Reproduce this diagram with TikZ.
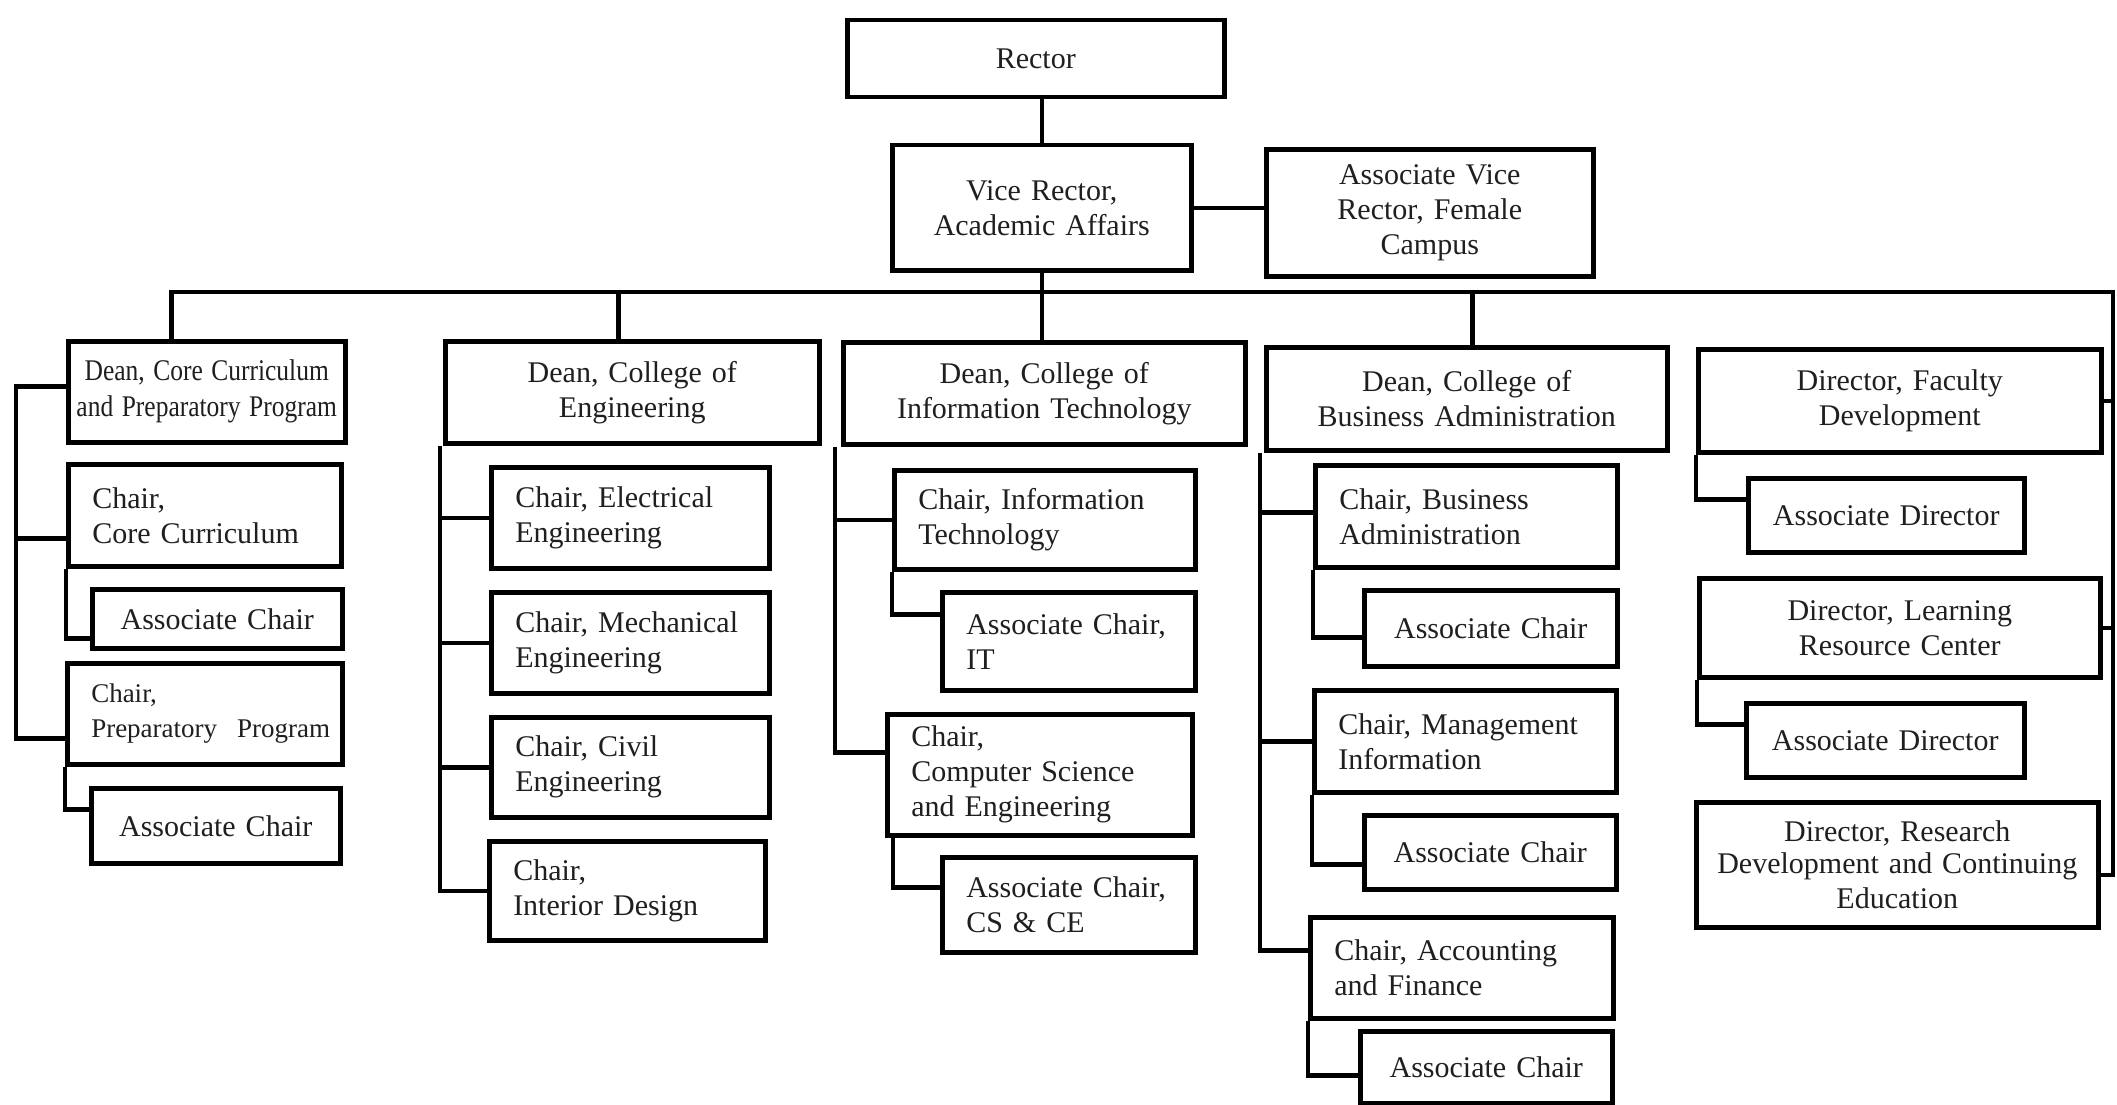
\documentclass[tikz,border=0pt]{standalone}
\usepackage{fontspec}
\setmainfont{Liberation Serif}
\usepackage{graphicx}
\usetikzlibrary{calc}
\tikzset{
  box/.style={draw=black, line width=4.5pt, fill=white, inner sep=0pt,
    font=\fontsize{30}{35}\selectfont, text=black!88},
  conn/.style={draw=black, line width=4.5pt, line join=miter}
}
% name, x1, y1, x2, y2, text  (left aligned)
\newcommand\lbox[6]{%
  \pgfmathsetmacro\bw{#4-#2}\pgfmathsetmacro\bh{#5-#3}\pgfmathsetmacro\tw{#4-#2-48}%
  \node[box, align=left, text width=\tw pt, minimum width=\bw pt, minimum height=\bh pt,
    anchor=north west] (#1) at (#2,#3) {#6};}
% centered
\newcommand\cbox[6]{%
  \pgfmathsetmacro\bw{#4-#2}\pgfmathsetmacro\bh{#5-#3}\pgfmathsetmacro\tw{#4-#2-10}%
  \node[box, align=center, text width=\tw pt, minimum width=\bw pt, minimum height=\bh pt,
    anchor=north west] (#1) at (#2,#3) {#6};}
\begin{document}
\begin{tikzpicture}[x=1pt,y=-1pt]
\useasboundingbox[fill=white] (0,0) rectangle (2117,1105);

% top
\cbox{Rector}{845}{18}{1222}{95}{Rector}
\cbox{VR}{890}{143}{1189}{268}{Vice Rector,\\Academic Affairs}
\cbox{AVR}{1264}{147}{1591}{274}{Associate Vice\\Rector, Female\\Campus}

% column 1
\cbox{DCC}{66}{339}{343}{440}{\scalebox{0.85}[1]{\begin{tabular}{@{}c@{}}Dean, Core Curriculum\\[1pt]and Preparatory Program\end{tabular}}}
\lbox{ChairCC}{66}{462}{339}{564}{Chair,\\Core Curriculum}
\cbox{ACC1}{90}{587}{340}{646}{Associate Chair}
\lbox{ChairPrep}{65}{661}{340}{762}{\fontsize{27}{35}\selectfont Chair,\\\mbox{Preparatory\ \ Program}}
\cbox{ACC2}{89}{786}{338}{861}{Associate Chair}

% column 2
\cbox{DEng}{443}{339}{817}{441}{Dean, College of\\Engineering}
\lbox{Elec}{489}{465}{767}{566}{Chair, Electrical\\Engineering}
\lbox{Mech}{489}{590}{767}{691}{Chair, Mechanical\\Engineering}
\lbox{Civil}{489}{715}{767}{815}{Chair, Civil\\Engineering}
\lbox{Interior}{487}{839}{763}{938}{Chair,\\Interior Design}

% column 3
\cbox{DIT}{841}{340}{1243}{442}{Dean, College of\\Information Technology}
\lbox{ChairIT}{892}{468}{1193}{567}{Chair, Information\\Technology}
\lbox{AIT}{940}{590}{1193}{688}{Associate Chair,\\IT}
\lbox{ChairCS}{885}{712}{1190}{833}{Chair,\\Computer Science\\and Engineering}
\lbox{ACS}{940}{855}{1193}{950}{Associate Chair,\\CS \& CE}

% column 4
\cbox{DBA}{1264}{345}{1665}{448}{Dean, College of\\Business Administration}
\lbox{ChairBA}{1313}{463}{1615}{565}{Chair, Business\\Administration}
\cbox{ABA1}{1362}{588}{1615}{664}{Associate Chair}
\lbox{ChairMI}{1312}{688}{1614}{790}{Chair, Management\\Information}
\cbox{ABA2}{1362}{813}{1614}{887}{Associate Chair}
\lbox{ChairAF}{1308}{915}{1611}{1016}{Chair, Accounting\\and Finance}
\cbox{ABA3}{1358}{1029}{1610}{1101}{Associate Chair}

% column 5
\cbox{DFD}{1696}{347}{2099}{450}{Director, Faculty\\Development}
\cbox{AD1}{1746}{476}{2022}{550}{Associate Director}
\cbox{DLRC}{1697}{576}{2098}{675}{Director, Learning\\Resource Center}
\cbox{AD2}{1744}{701}{2022}{775}{Associate Director}
\cbox{DRD}{1694}{800}{2096}{925}{\fontsize{30}{32}\selectfont Director, Research\\Development and Continuing\\Education}

% trunk coordinates
\coordinate (barL) at (169,292);
\coordinate (barR) at (2113,292);
\coordinate (c1) at (16,500);

% top connectors
\draw[conn] (VR.north) -- (VR.north |- Rector.south);
\draw[conn] (VR.east) -- (VR.east -| AVR.west);
\draw[conn] (VR.south) -- (VR.south |- DIT.north);
\draw[conn] ([xshift=-35.5pt]DCC.north) |- (barR) |- ([yshift=-10pt]DRD.east);
\draw[conn] ([xshift=-14pt]DEng.north) -- ([xshift=-14pt]DEng.north |- barL);
\draw[conn] ([xshift=5.5pt]DBA.north) -- ([xshift=5.5pt]DBA.north |- barL);

% column 1 connectors
\draw[conn] ([yshift=5.5pt]DCC.west) -| (c1) |- ([yshift=-24.5pt]ChairPrep.west);
\draw[conn] ([yshift=-23pt]ChairCC.west) -- ([yshift=-23pt]ChairCC.west -| c1);
\draw[conn] (ChairCC.south west) |- ([yshift=-19.5pt]ACC1.west);
\draw[conn] (ChairPrep.south west) |- ([yshift=16.5pt]ACC2.west);

% column 2 connectors
\draw[conn] ([xshift=-3pt]DEng.south west) |- (Interior.west);
\draw[conn] (Elec.west) -- ([xshift=-3pt]Elec.west -| DEng.south west);
\draw[conn] (Mech.west) -- ([xshift=-3pt]Mech.west -| DEng.south west);
\draw[conn] (Civil.west) -- ([xshift=-3pt]Civil.west -| DEng.south west);

% column 3 connectors
\draw[conn] ([xshift=-6pt]DIT.south west) |- ([yshift=22.5pt]ChairCS.west);
\draw[conn] (ChairIT.west) -- ([xshift=-6pt]ChairIT.west -| DIT.south west);
\draw[conn] (ChairIT.south west) |- ([yshift=27pt]AIT.west);
\draw[conn] ([xshift=8pt]ChairCS.south west) |- ([yshift=17.5pt]ACS.west);

% column 4 connectors
\draw[conn] ([xshift=-4pt]DBA.south west) |- ([yshift=17.5pt]ChairAF.west);
\draw[conn] ([yshift=4pt]ChairBA.west) -- ([xshift=-4pt,yshift=4pt]ChairBA.west -| DBA.south west);
\draw[conn] (ChairMI.west) -- ([xshift=-4pt]ChairMI.west -| DBA.south west);
\draw[conn] (ChairBA.south west) |- ([yshift=-9pt]ABA1.west);
\draw[conn] (ChairMI.south west) |- ([yshift=-12pt]ABA2.west);
\draw[conn] (ChairAF.south west) |- ([yshift=-8pt]ABA3.west);

% column 5 connectors
\draw[conn] (DFD.south west) |- ([yshift=16pt]AD1.west);
\draw[conn] (DLRC.south west) |- ([yshift=16pt]AD2.west);
\draw[conn] (DFD.east) -- (DFD.east -| barR);
\draw[conn] (DLRC.east) -- (DLRC.east -| barR);
\end{tikzpicture}
\end{document}
